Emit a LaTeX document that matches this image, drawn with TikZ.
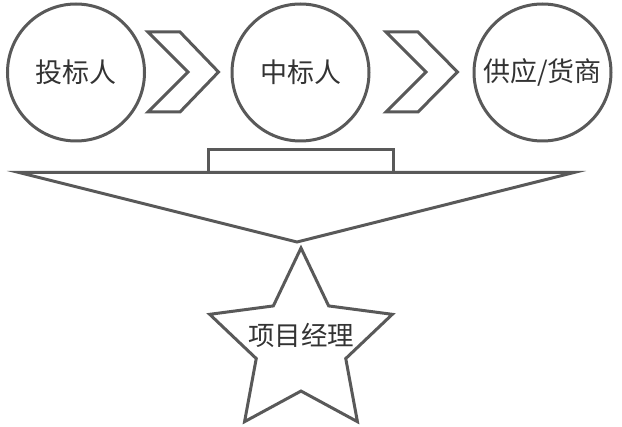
\documentclass[tikz,border=0pt]{standalone}
\usepackage{fontspec}
\setmainfont{Noto Sans CJK SC}
\usetikzlibrary{shapes.geometric}
\definecolor{linegray}{RGB}{89,89,89}
\definecolor{textgray}{RGB}{51,51,51}

\begin{document}
\begin{tikzpicture}[
      x=1pt, y=-1pt,
      party/.style={circle, draw=linegray, line width=3pt, inner sep=0pt,
                    minimum size=137pt, text=textgray,
                    font=\fontsize{27}{27}\selectfont},
      chev/.style={draw=linegray, line width=3pt, line join=miter},
      frame/.style={draw=linegray, line width=3pt, line join=miter},
      pmstar/.style={star, star points=5, star point ratio=2.04,
                     draw=linegray, line width=3pt, inner sep=0pt,
                     minimum size=192pt}
    ]
    \useasboundingbox (0,0) rectangle (622,427);
    % parties
    \node[party] (bidder) at (76,72.5) {投标人};
    \node[party] (winner) at (300.5,72.5) {中标人};
    \node[party] (supplier) at (542.5,72.5) {供应/货商};
    % chevrons between parties
    \draw[chev] (148,32) -- (180,32) -- (218.5,72) -- (180,112) -- (148,112) -- (188,72) -- cycle;
    \draw[chev] (386,32) -- (418,32) -- (457.5,72) -- (418,112) -- (386,112) -- (426,72) -- cycle;
    % funnel
    \draw[frame] (208.5,149.5) rectangle (393.5,172.5);
    \draw[frame] (19,172.5) -- (574,172.5) -- (297,242) -- cycle;
    % manager
    \node[pmstar, label={[text=textgray, font=\fontsize{26.5}{26.5}\selectfont, yshift=9pt]center:项目经理}] (pm) at (301,344) {};
  \end{tikzpicture}
\end{document}
